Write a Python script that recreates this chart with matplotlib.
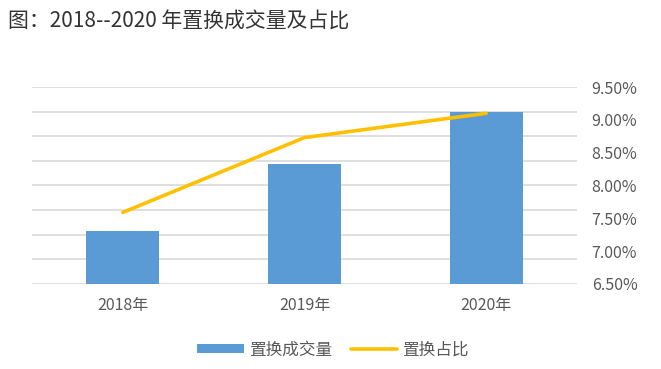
import matplotlib
matplotlib.use('Agg')
import matplotlib.pyplot as plt
from matplotlib.ticker import FuncFormatter

plt.rcParams['font.family'] = ['Noto Sans CJK SC', 'DejaVu Sans']

years = ['2018年', '2019年', '2020年']
volume = [215, 488, 699]          # 置换成交量 (left axis, labels hidden)
share = [7.59, 8.73, 9.10]        # 置换占比, %

bar_color = '#5b9bd5'
line_color = '#ffc000'
text_color = '#595959'

fig = plt.figure(figsize=(6.61, 3.69), dpi=100)
ax1 = fig.add_axes([0.0484, 0.2304, 0.8246, 0.5338])

x = range(len(years))
ax1.bar(x, volume, width=0.4, color=bar_color, zorder=2, label='置换成交量')
ax1.set_xlim(-0.5, 2.5)
ax1.set_ylim(0, 800)
ax1.set_yticks(range(0, 801, 100))
ax1.yaxis.grid(True, color='#d9d9d9', linewidth=1.2, zorder=0)
ax1.set_axisbelow(True)
ax1.set_xticks(list(x))
ax1.set_xticklabels(years)
for s in ax1.spines.values():
    s.set_visible(False)

ax2 = ax1.twinx()
ax2.plot(list(x), share, color=line_color, linewidth=2.6, solid_capstyle='round',
         zorder=3, label='置换占比')
ax2.set_ylim(6.5, 9.5)
ax2.set_yticks([6.5, 7.0, 7.5, 8.0, 8.5, 9.0, 9.5])
ax2.yaxis.set_major_formatter(FuncFormatter(lambda v, p: '%.2f%%' % v))
ax2.tick_params(axis='y', left=False, right=False, labelsize=11.5,
                labelcolor=text_color, pad=7)
for s in ax2.spines.values():
    s.set_visible(False)

# twinx puts the left ticks back, so hide them afterwards
ax1.tick_params(axis='y', left=False, right=False, labelleft=False)
ax1.tick_params(axis='x', bottom=False, labelsize=11.5, labelcolor=text_color, pad=6)

h1, l1 = ax1.get_legend_handles_labels()
h2, l2 = ax2.get_legend_handles_labels()
fig.legend(h1 + h2, l1 + l2, loc='center', bbox_to_anchor=(0.504, 0.052), ncol=2,
           frameon=False, fontsize=12, labelcolor=text_color, handlelength=2.8,
           handleheight=0.5, columnspacing=1.1, handletextpad=0.3)

fig.text(0.012, 0.945, '图：2018--2020 年置换成交量及占比', fontsize=15,
         color='#333333', va='center', ha='left')

fig.savefig('out.png', dpi=100)
